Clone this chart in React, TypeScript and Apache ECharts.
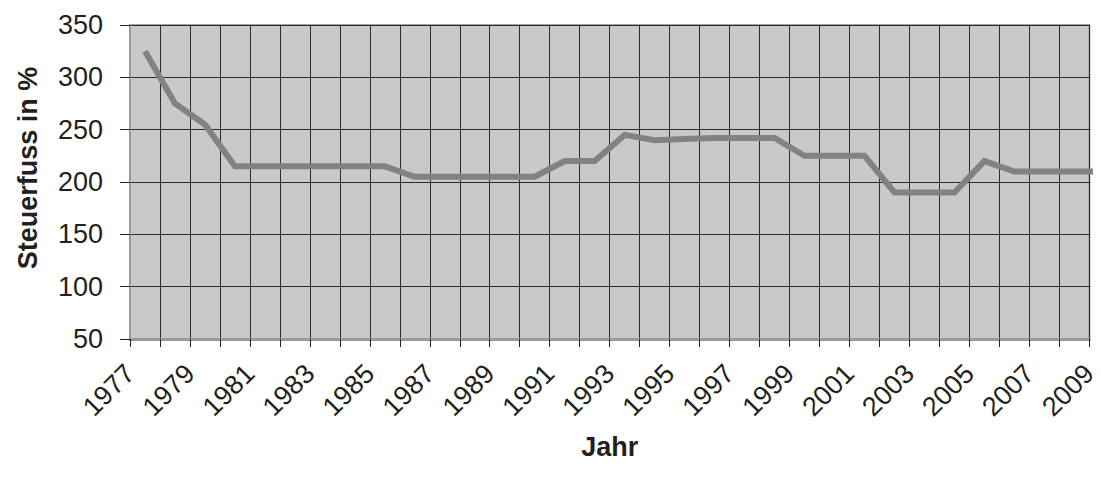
import React, { useEffect, useRef } from "react";
import * as echarts from "echarts";

const years = [
  1977, 1978, 1979, 1980, 1981, 1982, 1983, 1984, 1985, 1986, 1987,
  1988, 1989, 1990, 1991, 1992, 1993, 1994, 1995, 1996, 1997, 1998,
  1999, 2000, 2001, 2002, 2003, 2004, 2005, 2006, 2007, 2008, 2009,
];
const steuerfuss = [
  325, 275, 255, 215, 215, 215, 215, 215, 215, 205, 205,
  205, 205, 205, 220, 220, 245, 240, 241, 242, 242, 242,
  225, 225, 225, 190, 190, 190, 220, 210, 210, 210, 210,
];
const yTicks = [50, 100, 150, 200, 250, 300, 350];
const xLabelYears = [1977, 1979, 1981, 1983, 1985, 1987, 1989, 1991, 1993, 1995, 1997, 1999, 2001, 2003, 2005, 2007, 2009];

const FONT = "'Liberation Sans', Arial, Helvetica, sans-serif";

export default function App() {
  const ref = useRef<HTMLDivElement>(null);
  useEffect(() => {
    if (!ref.current) return;
    const chart = echarts.init(ref.current, null, { renderer: "svg" });
    const seriesData = years.map((y, i) => [y + 0.5, steuerfuss[i]]);
    chart.setOption({
      animation: false,
      backgroundColor: "#ffffff",
      textStyle: { fontFamily: FONT },
      grid: {
        left: 130,
        right: 8,
        top: 25,
        bottom: 143,
        show: true,
        backgroundColor: "#c8c9cb",
        borderColor: "#a3a3a5",
        borderWidth: 2,
      },
      xAxis: {
        type: "value",
        min: years[0],
        max: years[years.length - 1],
        interval: 1,
        axisLine: { show: true, onZero: false, lineStyle: { color: "#9a9a9c", width: 3 } },
        axisTick: { show: true, length: 8, lineStyle: { color: "#222", width: 1 } },
        splitLine: { show: true, lineStyle: { color: "#2a2a2a", width: 1 } },
        axisLabel: {
          rotate: 45,
          margin: 30,
          fontSize: 27,
          color: "#231f20",
          fontFamily: FONT,
          showMinLabel: true,
          showMaxLabel: true,
          formatter: (v: number) => (xLabelYears.includes(v) ? String(v) : ""),
        },
        name: "Jahr",
        nameLocation: "middle",
        nameGap: 94,
        nameTextStyle: { fontSize: 27, fontWeight: "bold", color: "#231f20", fontFamily: FONT },
      },
      yAxis: {
        type: "value",
        min: yTicks[0],
        max: yTicks[yTicks.length - 1],
        interval: 50,
        axisLine: { show: true, lineStyle: { color: "#9a9a9c", width: 2 } },
        axisTick: { show: true, length: 10, lineStyle: { color: "#222", width: 1 } },
        splitLine: { show: true, lineStyle: { color: "#2a2a2a", width: 1 } },
        axisLabel: {
          margin: 27,
          fontSize: 27,
          color: "#231f20",
          fontFamily: FONT,
        },
      },
      graphic: [
        {
          type: "text",
          x: 28,
          y: 168,
          rotation: Math.PI / 2,
          style: {
            text: "Steuerfuss in %",
            fontSize: 27,
            fontWeight: "bold",
            fill: "#231f20",
            fontFamily: FONT,
            align: "center",
            verticalAlign: "middle",
          },
        },
      ],
      series: [
        {
          type: "line",
          data: seriesData,
          showSymbol: false,
          clip: true,
          lineStyle: { color: "#818285", width: 6, cap: "butt", join: "miter" },
        },
      ],
    });
    return () => chart.dispose();
  }, []);
  return <div ref={ref} style={{ width: 1101, height: 482, position: "absolute", left: 0, top: 0 }} />;
}
